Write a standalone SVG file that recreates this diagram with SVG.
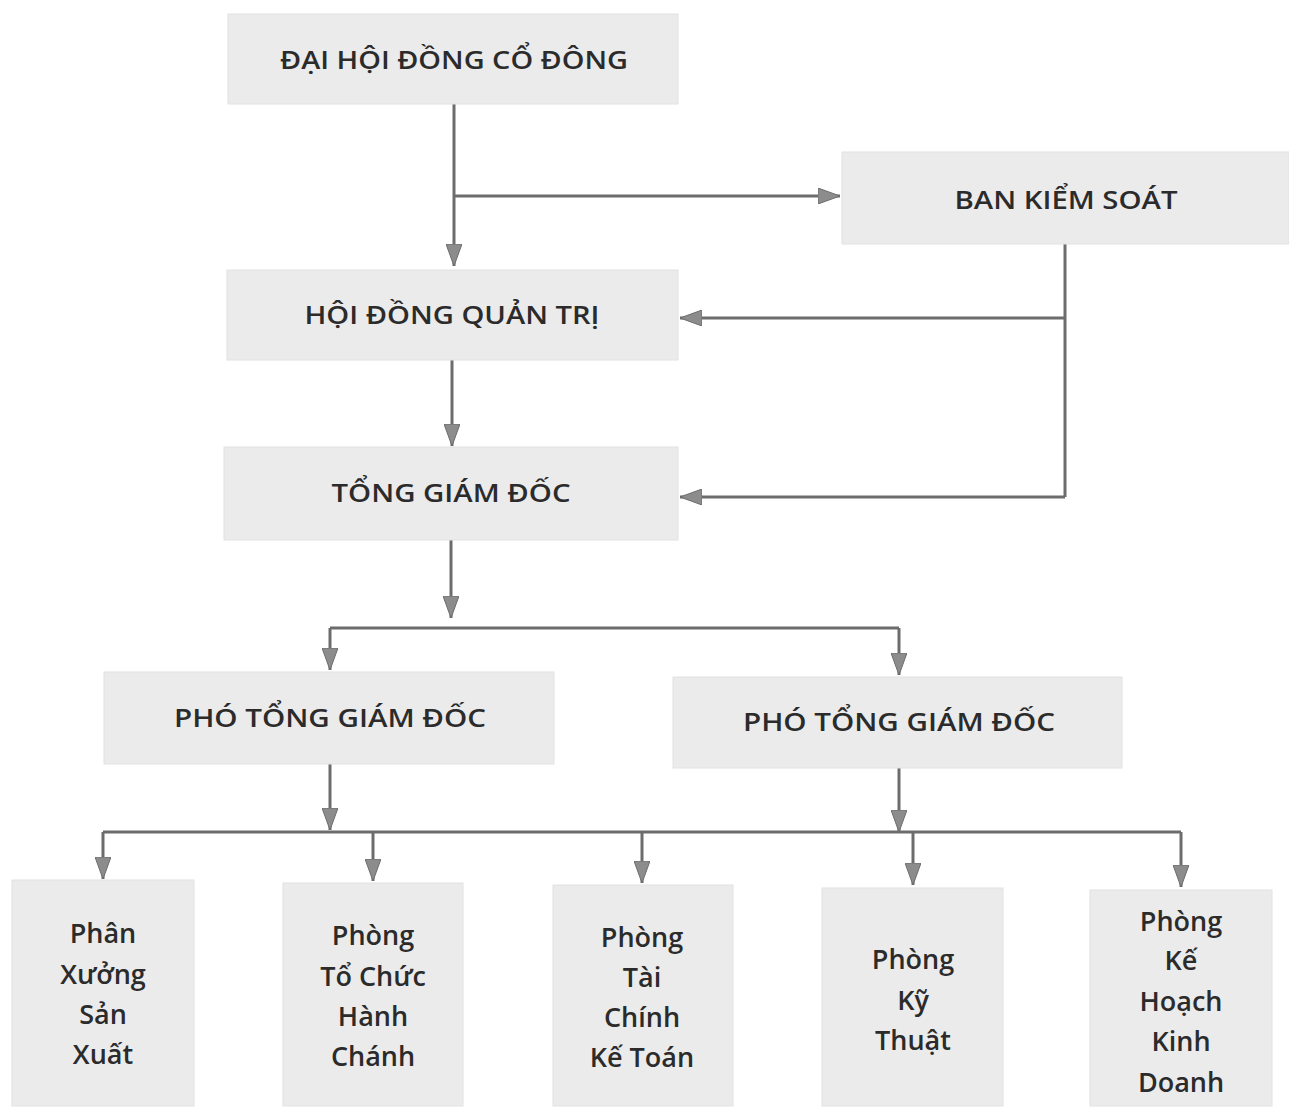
<svg xmlns="http://www.w3.org/2000/svg" width="1289" height="1109" viewBox="0 0 1289 1109">
<defs>
<style>
.box{fill:#ebebec;stroke:#e2e2e4;stroke-width:1}
.t{font-family:"Open Sans","Noto Sans","Liberation Sans",sans-serif;font-weight:600;fill:#2b2b2b;text-anchor:middle}
.h{font-size:26px}
.s{font-size:27px}
.c{fill:none;stroke:#6c6c6c;stroke-width:3}
.a{marker-end:url(#arr)}
</style>
<marker id="arr" viewBox="0 0 22 16" refX="22" refY="8" markerWidth="22" markerHeight="16" orient="auto" markerUnits="userSpaceOnUse">
<path d="M0,0 L22,8 L0,16 Z" fill="#8c8c8c" stroke="#6c6c6c" stroke-width="1"/>
</marker>
</defs>
<rect width="1289" height="1109" fill="#ffffff"/>

<g id="connectors">
<path class="c a" d="M454,104 V266"/>
<path class="c a" d="M454,196 H840"/>
<path class="c" d="M1065,244 V497"/>
<path class="c a" d="M1065,318 H680"/>
<path class="c a" d="M1065,497 H680"/>
<path class="c a" d="M452,360 V446"/>
<path class="c a" d="M451,540 V618"/>
<path class="c" d="M330,628 H899"/>
<path class="c a" d="M330,628 V670"/>
<path class="c a" d="M899,628 V675"/>
<path class="c a" d="M330,764 V830"/>
<path class="c a" d="M899,768 V832"/>
<path class="c" d="M103,832 H1181"/>
<path class="c a" d="M103,832 V879"/>
<path class="c a" d="M373,832 V881"/>
<path class="c a" d="M642,832 V883"/>
<path class="c a" d="M913,832 V885"/>
<path class="c a" d="M1181,832 V887"/>
</g>

<g id="dhdcd">
<rect class="box" x="228" y="14" width="450" height="90"/>
<text class="t h" x="454" y="69" textLength="348" lengthAdjust="spacingAndGlyphs">ĐẠI HỘI ĐỒNG CỔ ĐÔNG</text>
</g>
<g id="bks">
<rect class="box" x="842" y="152" width="447" height="92"/>
<text class="t h" x="1066" y="209" textLength="223" lengthAdjust="spacingAndGlyphs">BAN KIỂM SOÁT</text>
</g>
<g id="hdqt">
<rect class="box" x="227" y="270" width="451" height="90"/>
<text class="t h" x="452" y="324" textLength="295" lengthAdjust="spacingAndGlyphs">HỘI ĐỒNG QUẢN TRỊ</text>
</g>
<g id="tgd">
<rect class="box" x="224" y="447" width="454" height="93"/>
<text class="t h" x="451" y="502" textLength="239" lengthAdjust="spacingAndGlyphs">TỔNG GIÁM ĐỐC</text>
</g>
<g id="ptgd1">
<rect class="box" x="104" y="672" width="450" height="92"/>
<text class="t h" x="330" y="727" textLength="312" lengthAdjust="spacingAndGlyphs">PHÓ TỔNG GIÁM ĐỐC</text>
</g>
<g id="ptgd2">
<rect class="box" x="673" y="677" width="449" height="91"/>
<text class="t h" x="899" y="731" textLength="312" lengthAdjust="spacingAndGlyphs">PHÓ TỔNG GIÁM ĐỐC</text>
</g>

<g id="pxsx">
<rect class="box" x="12" y="880" width="182" height="226"/>
<text class="t s" x="103"><tspan x="103" y="943">Phân</tspan><tspan x="103" y="984">Xưởng</tspan><tspan x="103" y="1024">Sản</tspan><tspan x="103" y="1064">Xuất</tspan></text>
</g>
<g id="ptchc">
<rect class="box" x="283" y="883" width="180" height="223"/>
<text class="t s" x="373"><tspan x="373" y="945">Phòng</tspan><tspan x="373" y="986">Tổ Chức</tspan><tspan x="373" y="1026">Hành</tspan><tspan x="373" y="1066">Chánh</tspan></text>
</g>
<g id="ptckt">
<rect class="box" x="553" y="885" width="180" height="221"/>
<text class="t s" x="642"><tspan x="642" y="947">Phòng</tspan><tspan x="642" y="987">Tài</tspan><tspan x="642" y="1027">Chính</tspan><tspan x="642" y="1067">Kế Toán</tspan></text>
</g>
<g id="pkt">
<rect class="box" x="822" y="888" width="181" height="218"/>
<text class="t s" x="913"><tspan x="913" y="969">Phòng</tspan><tspan x="913" y="1010">Kỹ</tspan><tspan x="913" y="1050">Thuật</tspan></text>
</g>
<g id="pkhkd">
<rect class="box" x="1090" y="890" width="182" height="216"/>
<text class="t s" x="1181"><tspan x="1181" y="931">Phòng</tspan><tspan x="1181" y="970">Kế</tspan><tspan x="1181" y="1011">Hoạch</tspan><tspan x="1181" y="1051">Kinh</tspan><tspan x="1181" y="1092">Doanh</tspan></text>
</g>
</svg>
